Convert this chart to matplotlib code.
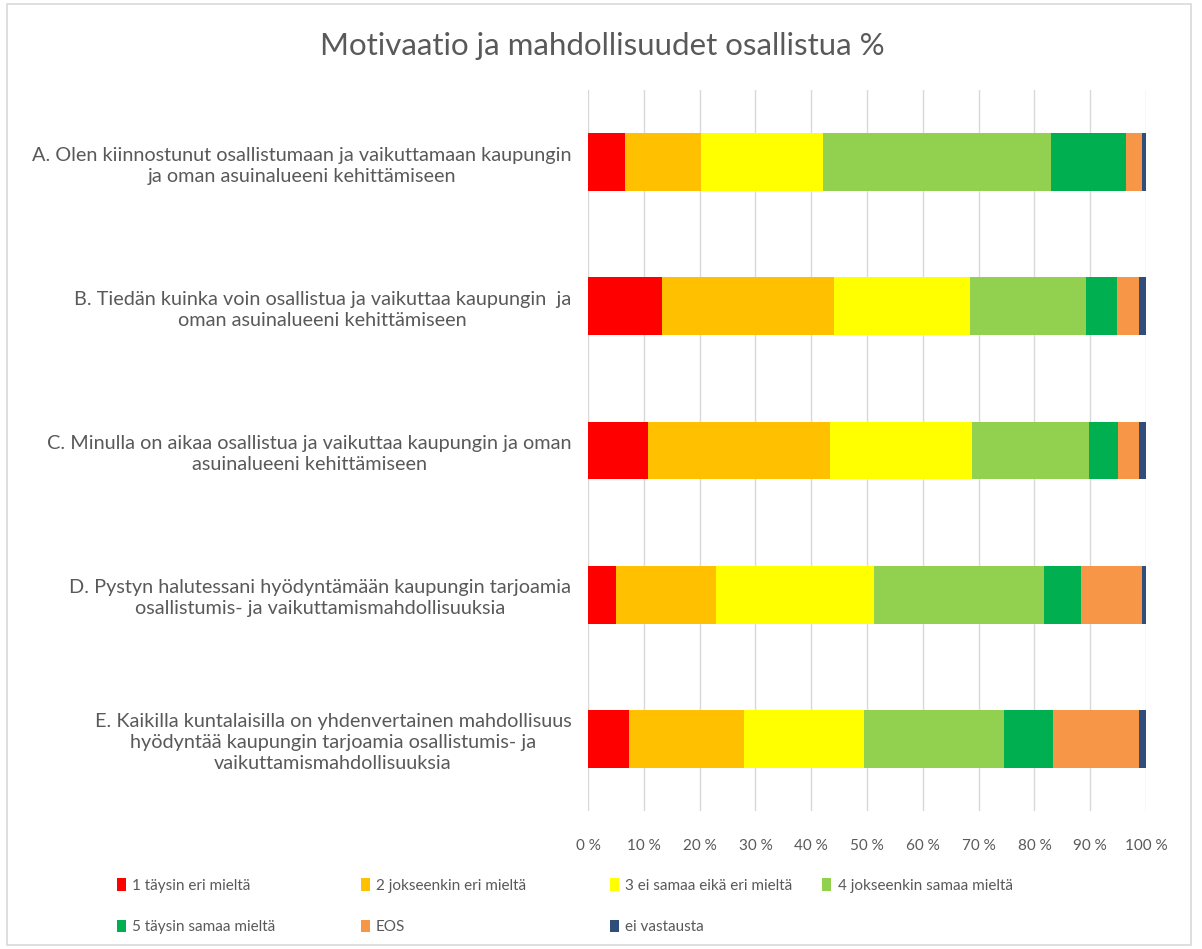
import matplotlib.pyplot as plt
from matplotlib.patches import Rectangle, Patch
import numpy as np

plt.rcParams['font.family'] = ['Lato', 'DejaVu Sans']

# Kysymykset (kategoriat)
questions = [
    "A. Olen kiinnostunut osallistumaan ja vaikuttamaan kaupungin\nja oman asuinalueeni kehittämiseen",
    "B. Tiedän kuinka voin osallistua ja vaikuttaa kaupungin  ja\noman asuinalueeni kehittämiseen",
    "C. Minulla on aikaa osallistua ja vaikuttaa kaupungin ja oman\nasuinalueeni kehittämiseen",
    "D. Pystyn halutessani hyödyntämään kaupungin tarjoamia\nosallistumis- ja vaikuttamismahdollisuuksia",
    "E. Kaikilla kuntalaisilla on yhdenvertainen mahdollisuus\nhyödyntää kaupungin tarjoamia osallistumis- ja\nvaikuttamismahdollisuuksia",
]

series_names = ["1 täysin eri mieltä", "2 jokseenkin eri mieltä", "3 ei samaa eikä eri mieltä",
                "4 jokseenkin samaa mieltä", "5 täysin samaa mieltä", "EOS", "ei vastausta"]

# Osuudet % (luettu kuvasta), järjestys A..E
s1 = [6.7, 13.3, 10.8, 5.1, 7.3]
s2 = [13.6, 30.8, 32.6, 17.8, 20.6]
s3 = [21.9, 24.3, 25.4, 28.4, 21.5]
s4 = [40.8, 20.9, 20.9, 30.5, 25.1]
s5 = [13.4, 5.5, 5.3, 6.6, 8.9]
eos = [2.8, 4.0, 3.8, 10.8, 15.4]
ei_vast = [0.8, 1.2, 1.2, 0.8, 1.2]

colors = ['#FF0000', '#FFC000', '#FFFF00', '#92D050', '#00B050', '#F79646', '#2F4F7A']
text_color = '#595959'

fig = plt.figure(figsize=(12.02, 9.49), dpi=100)
ax = fig.add_axes([0.4892, 0.1454, 0.4642, 0.7598])

# chart border like in Excel
fig.patches.append(Rectangle((0.006, 0.004), 0.985, 0.992, transform=fig.transFigure,
                             fill=False, edgecolor='#d9d9d9', linewidth=1.2))

y = np.arange(len(questions))
left = np.zeros(len(questions))
data = [s1, s2, s3, s4, s5, eos, ei_vast]
for vals, col, name in zip(data, colors, series_names):
    vals = np.array(vals)
    ax.barh(y, vals, left=left, height=0.4, color=col, label=name, zorder=3)
    left += vals

ax.set_xlim(0, 100)
ax.set_ylim(len(questions) - 0.5, -0.5)
ax.set_xticks(np.arange(0, 101, 10))
ax.set_xticklabels([f"{v} %" for v in range(0, 101, 10)], fontsize=11, color=text_color)
ax.set_yticks(y)
ax.set_yticklabels(questions, fontsize=14.3, color=text_color, multialignment='center',
                   linespacing=1.3)
ax.tick_params(axis='both', length=0)
ax.tick_params(axis='x', pad=20)
ax.tick_params(axis='y', pad=12)
ax.grid(axis='x', color='#d9d9d9', linewidth=1, zorder=0)
for sp in ax.spines.values():
    sp.set_visible(False)

fig.text(0.501, 0.952, "Motivaatio ja mahdollisuudet osallistua %", ha='center', va='center',
         fontsize=22.5, color=text_color)

# legend: Excel puts entries in rows of 4, one small legend per column
handles = [Patch(facecolor=c, edgecolor='none') for c in colors]
col_items = [[0, 4], [1, 5], [2, 6], [3]]
col_x = [0.092, 0.295, 0.502, 0.679]
for items, x0 in zip(col_items, col_x):
    leg = fig.legend([handles[i] for i in items], [series_names[i] for i in items],
                     loc='upper left', bbox_to_anchor=(x0, 0.081), frameon=False,
                     fontsize=11, handlelength=0.6, handleheight=0.9, handletextpad=0.4,
                     labelspacing=1.75, labelcolor=text_color, borderaxespad=0)

plt.savefig('out.png', dpi=100)
